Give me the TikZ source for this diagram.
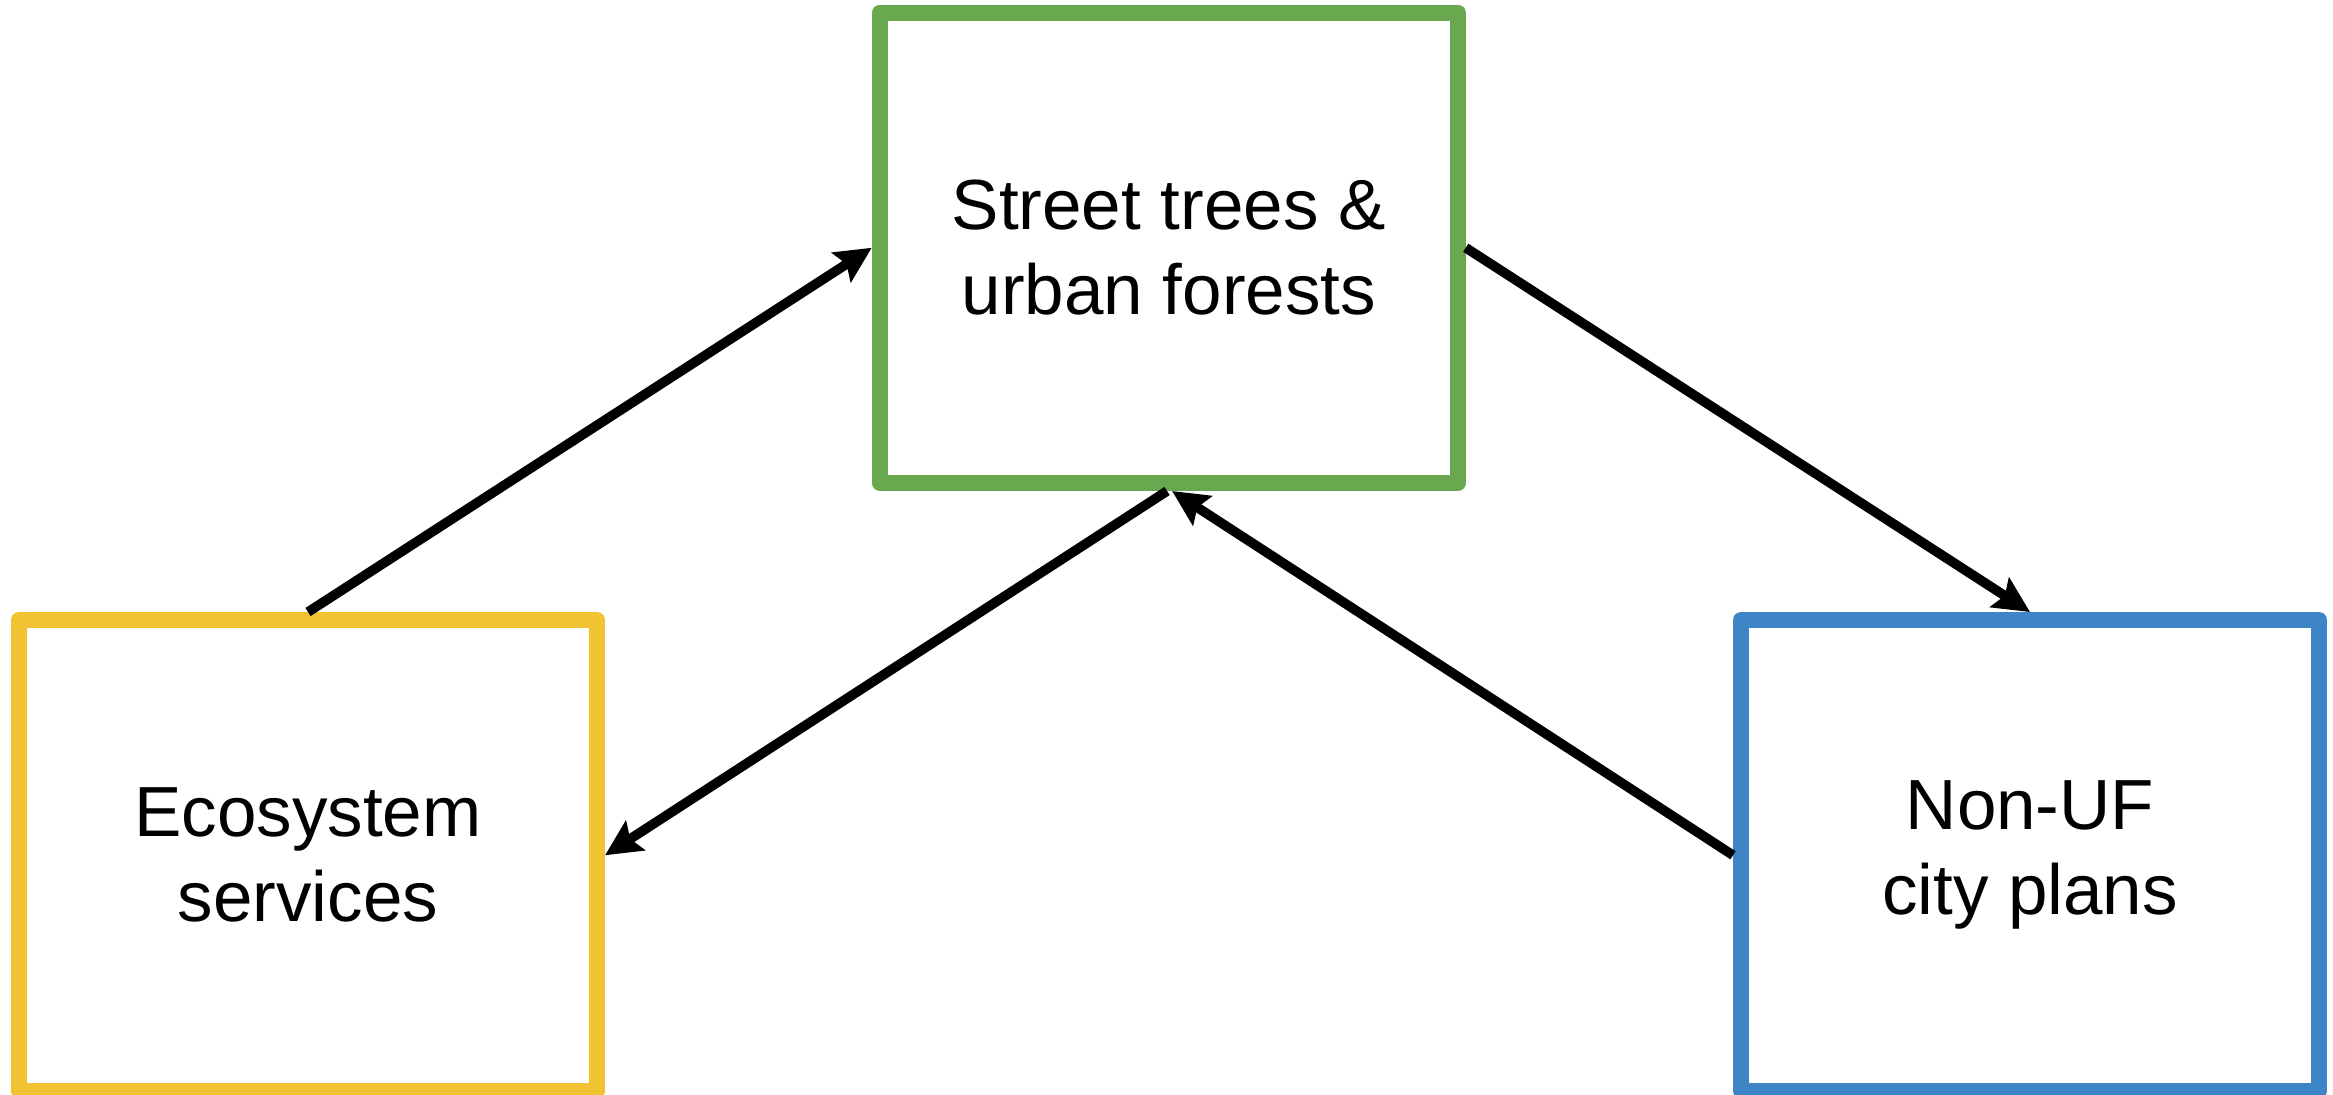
\documentclass[tikz,border=0pt]{standalone}
\usepackage{fontspec}
\setmainfont{Liberation Sans}
\usetikzlibrary{arrows.meta}
\definecolor{boxgreen}{RGB}{106,168,79}
\definecolor{boxyellow}{RGB}{241,194,50}
\definecolor{boxblue}{RGB}{61,133,198}
\tikzset{
  cbox/.style={draw=#1, line width=4.8pt, line join=round, fill=white,
    minimum width=173.4pt, minimum height=141.15pt, inner sep=0pt,
    align=center, text=black, font=\fontsize{21.3}{25.5}\selectfont},
  conn/.style={line width=2.9pt, draw=black,
    -{Stealth[length=10.8pt, width=10.4pt, inset=1.8pt]}}
}
\begin{document}
\begin{tikzpicture}[x=0.3pt, y=-0.3pt]
\useasboundingbox (0,0) rectangle (2333,1094);
\node[cbox=boxgreen] (st) at (1168.75,247.75) {Street trees \&\\urban forests};
\node[cbox=boxyellow] (es) at (308,855.25) {Ecosystem\\services};
\node[cbox=boxblue] (nu) at (2030,855.25) {Non-UF\\city plans};
\draw[conn] (es.north) -- (st.west);
\draw[conn] (st.east) -- (nu.north);
\draw[conn] (nu.west) -- ([xshift=1pt]st.south);
\draw[conn] ([xshift=-0.5pt]st.south) -- (es.east);
\end{tikzpicture}
\end{document}
